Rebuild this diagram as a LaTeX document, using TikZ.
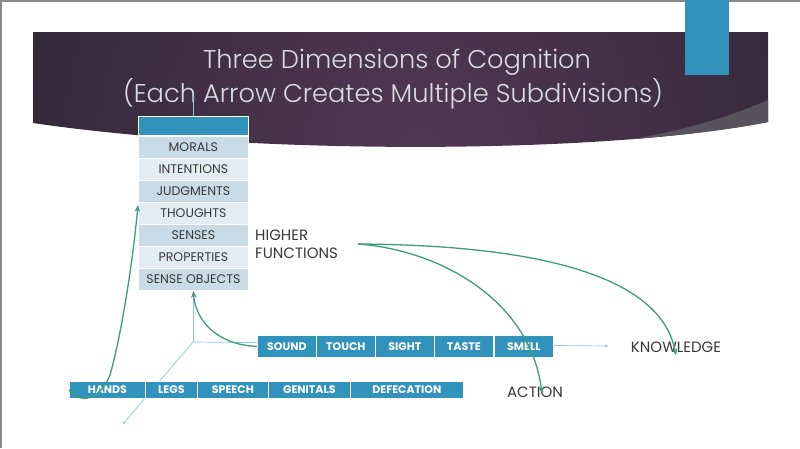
\documentclass[tikz,border=0pt]{standalone}
\usepackage{fontspec}
\setmainfont{Poppins}
\newfontfamily\titlefont{Poppins Light}
\usetikzlibrary{arrows.meta}
\definecolor{bannerin}{HTML}{523853}
\definecolor{bannerout}{HTML}{241F2D}
\definecolor{wedge}{HTML}{58525F}
\definecolor{titlegray}{HTML}{DADAE2}
\definecolor{boxblue}{HTML}{3192BB}
\definecolor{rowdark}{HTML}{C9DBE6}
\definecolor{rowlight}{HTML}{E3ECF2}
\definecolor{textgray}{HTML}{383838}
\definecolor{axisblue}{HTML}{8EC6DD}
\definecolor{arrowgreen}{HTML}{3E9C7E}
\definecolor{framegray}{HTML}{8A8A8A}
\begin{document}
\begin{tikzpicture}[x=1pt,y=-1pt,
  tabrow/.style={draw=white, line width=0.8pt, minimum width=110pt, minimum height=22pt,
    inner sep=0pt, text=textgray, font=\fontsize{12.5}{14}\selectfont, anchor=north west},
  darkrow/.style={tabrow, fill=rowdark},
  lightrow/.style={tabrow, fill=rowlight},
  bluebox/.style={draw=white, line width=0.7pt, fill=boxblue, text=white, inner sep=0pt,
    font=\bfseries\fontsize{11}{12}\selectfont, anchor=north west},
  sensebox/.style={bluebox, minimum height=22pt, minimum width=59pt},
  actbox/.style={bluebox, minimum height=17pt},
  axis/.style={draw=axisblue, line width=0.7pt, -{Stealth[length=3pt,width=2.6pt]}},
  garrow/.style={draw=arrowgreen, line width=1.3pt, -{Stealth[length=7pt,width=5.5pt]}},
  label/.style={text=textgray, font=\fontsize{15}{18}\selectfont, inner sep=0pt},
  titletext/.style={text=titlegray, font=\titlefont\fontsize{25.7}{30}\selectfont, inner sep=0pt, anchor=base}
]
\useasboundingbox (0,0) rectangle (800,448);
\fill[white] (0,0) rectangle (800,448);
% frame
\draw[framegray, line width=1.5pt] (0,0.75) -- (800,0.75);
\draw[framegray, line width=1.5pt] (0.75,0) -- (0.75,448);

% banner
\begin{scope}
  \clip (33,32) -- (768,32) -- (768,122) .. controls (600,155) and (250,155) .. (33,123) -- cycle;
  \shade[inner color=bannerin, outer color=bannerout] (420,150) circle (640);
  \fill[wedge] (768,100) .. controls (700,130) and (620,144) .. (540,150) -- (800,150) -- cycle;
\end{scope}
% top-right blue rectangle
\fill[boxblue] (685,0) rectangle (729,75);

% title
\node[titletext] (title1) at (397,68) {Three Dimensions of Cognition};
\node[titletext] (title2) at (393,102) {(Each Arrow Creates Multiple Subdivisions)};

% axes (behind boxes)
\coordinate (O) at (193,342);
\coordinate (vtop) at (193,94);
\coordinate (htip) at (608,346);
\coordinate (dtip) at (123,424);
\draw[axis] (O) -- (vtop);
\draw[axis] (O) -- (htip);
\draw[axis] (O) -- (dtip);

% table
\node[tabrow, fill=boxblue, minimum height=19pt] (head) at (138,116) {};
\node[darkrow] (morals) at (138,136) {MORALS};
\node[lightrow] (intent) at (138,158) {INTENTIONS};
\node[darkrow] (judg) at (138,180) {JUDGMENTS};
\node[lightrow] (thoughts) at (138,202) {THOUGHTS};
\node[darkrow] (senses) at (138,224) {SENSES};
\node[lightrow] (props) at (138,246) {PROPERTIES};
\node[darkrow] (sobj) at (138,268) {SENSE OBJECTS};

% sense row
\node[sensebox] (sound) at (257,335) {SOUND};
\node[sensebox] (touch) at (316,335) {TOUCH};
\node[sensebox] (sight) at (375,335) {SIGHT};
\node[sensebox] (taste) at (434,335) {TASTE};
\node[sensebox] (smell) at (494,335) {SMELL};

% action row
\node[actbox, minimum width=76pt] (hands) at (69,381) {HANDS};
\node[actbox, minimum width=52pt] (legs) at (145,381) {LEGS};
\node[actbox, minimum width=71pt] (speech) at (197,381) {SPEECH};
\node[actbox, minimum width=82pt] (genitals) at (268,381) {GENITALS};
\node[actbox, minimum width=113pt] (defec) at (350,381) {DEFECATION};

% labels
\node[label, align=left, anchor=west] (hf) at (255,244) {HIGHER\\FUNCTIONS};
\node[label] (know) at (676,347) {KNOWLEDGE};
\node[label] (action) at (535,392) {ACTION};
\coordinate (hfout) at (358,244);

% green arrows
\draw[garrow] (sound.west) .. controls (215,345) and (195,318) .. (sobj.south);
\draw[garrow] (hands.west) .. controls (80,405) and (100,400) .. (110,375)
   .. controls (120,340) and (132,270) .. ([yshift=-3pt]thoughts.north west);
\draw[garrow] (hfout) .. controls (440,250) and (530,300) .. ([xshift=7pt,yshift=-7pt]action.north);
\draw[garrow] (hfout) .. controls (520,245) and (660,270) .. ([yshift=-14pt]know.north);
\end{tikzpicture}
\end{document}
